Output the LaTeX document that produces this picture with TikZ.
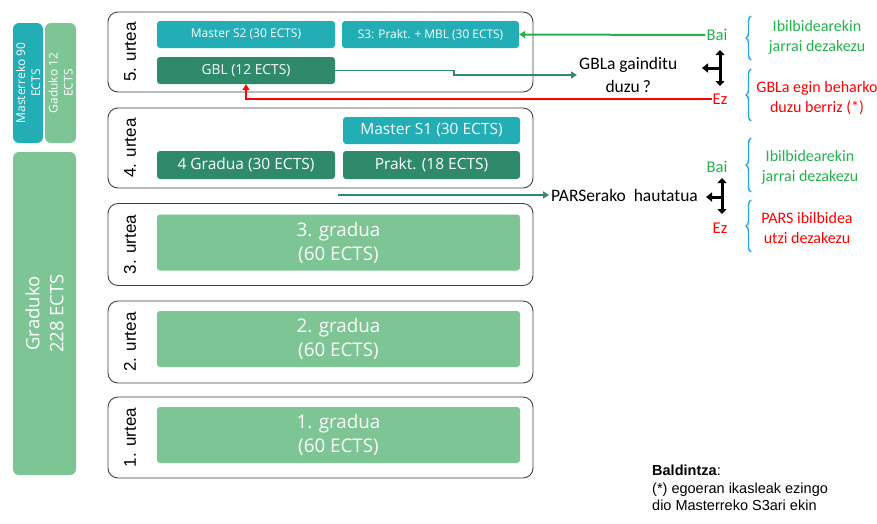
\documentclass[tikz,border=0pt]{standalone}
\usepackage{fontspec}
\setmainfont{Open Sans}
\newfontfamily\calfont{Carlito}
\newfontfamily\arifont{Liberation Sans}
\usetikzlibrary{arrows.meta,decorations.pathreplacing}
\definecolor{mteal}{HTML}{23AEB6}
\definecolor{dgreen}{HTML}{2F8A6C}
\definecolor{lgreen}{HTML}{7DC594}
\definecolor{okgreen}{HTML}{22B24C}
\definecolor{nored}{HTML}{FF0000}
\definecolor{braceblue}{HTML}{22A8E2}
\definecolor{frame}{HTML}{404040}
\tikzset{
  yearbox/.style={draw=frame, line width=0.9pt, rounded corners=10pt, minimum width=425pt, inner sep=0pt},
  ybox/.style={rounded corners=3pt, text=white, inner sep=0pt, align=center},
  sbox/.style={ybox, minimum width=178pt, minimum height=27pt},
  gbox/.style={ybox, fill=lgreen, minimum width=363pt, minimum height=56pt,
               font=\fontsize{18.8}{24}\selectfont},
  bar/.style={rounded corners=6pt, fill=#1, inner sep=0pt},
  bartext/.style={rotate=90, text=white, align=center},
  ylabel/.style={rotate=90, font=\arifont\fontsize{17}{20}\selectfont, text=black},
  qtext/.style={font=\calfont\fontsize{17.5}{23}\selectfont, align=center, inner sep=2pt},
  ans/.style={font=\calfont\fontsize{16.5}{19}\selectfont, inner sep=1pt},
  res/.style={font=\calfont\fontsize{16}{20}\selectfont, align=center, inner sep=0pt},
  bracestyle/.style={draw=braceblue, line width=1.4pt, decorate,
                     decoration={brace, amplitude=5pt}},
  decarrow/.style={line width=3pt, -{Triangle[length=6pt,width=9pt]}},
}
\begin{document}
\begin{tikzpicture}[x=1pt,y=-1pt]
\useasboundingbox (0,0) rectangle (877,523);

% left bars
\node[bar=mteal, minimum width=30pt, minimum height=120pt] (m90) at (28,83) {};
\node[bartext, font=\fontsize{12}{15}\selectfont] at (m90.center) {Masterreko 90\\ECTS};
\node[bar=lgreen, minimum width=31pt, minimum height=120pt] (g12) at (60.5,83) {};
\node[bartext, font=\fontsize{12}{15}\selectfont] at (g12.center) {Gaduko 12\\ECTS};
\node[bar=lgreen, minimum width=63pt, minimum height=323pt] (g228) at (44.5,313.5) {};
\node[bartext, font=\fontsize{18.5}{24}\selectfont] at (g228.center) {Graduko\\228 ECTS};

% year boxes
\node[yearbox, minimum height=80pt] (y5) at (320.5,52) {};
\node[yearbox, minimum height=80pt] (y4) at (320.5,148) {};
\node[yearbox, minimum height=82pt] (y3) at (320.5,244.5) {};
\node[yearbox, minimum height=82pt] (y2) at (320.5,342) {};
\node[yearbox, minimum height=81pt] (y1) at (320.5,437.5) {};

\node[ylabel] (l5) at (130,52) {5. urtea};
\node[ylabel] (l4) at (130,148) {4. urtea};
\node[ylabel] (l3) at (130,244.5) {3. urtea};
\node[ylabel] (l2) at (130,342) {2. urtea};
\node[ylabel] (l1) at (130,437.5) {1. urtea};

% year 5
\node[sbox, fill=mteal, font=\fontsize{12}{14}\selectfont] (ms2) at (246,34.5) {Master S2 (30 ECTS)};
\node[sbox, fill=mteal, minimum width=177pt, font=\fontsize{11.9}{14}\selectfont] (s3) at (430.5,34.5) {S3: Prakt. + MBL (30 ECTS)};
\node[sbox, fill=dgreen, font=\fontsize{13.8}{16}\selectfont] (gbl) at (246,70.5) {GBL (12 ECTS)};
% year 4
\node[sbox, fill=mteal, minimum width=177pt, font=\fontsize{15.5}{18}\selectfont] (ms1) at (431.5,130.5) {Master S1 (30 ECTS)};
\node[sbox, fill=dgreen, minimum height=28pt, font=\fontsize{15.5}{18}\selectfont] (g4) at (246,165) {4 Gradua (30 ECTS)};
\node[sbox, fill=dgreen, minimum width=177pt, minimum height=28pt, font=\fontsize{15.5}{18}\selectfont] (pr) at (431.5,165) {Prakt. (18 ECTS)};
% years 1-3
\node[gbox] (g3) at (338.5,242.5) {3. gradua\\(60 ECTS)};
\node[gbox] (g2) at (338.5,339) {2. gradua\\(60 ECTS)};
\node[gbox] (g1) at (338.5,435) {1. gradua\\(60 ECTS)};

% decision 1
\node[qtext, anchor=west] (q1) at (577,75) {GBLa gainditu\\duzu\,?};
\node[ans, text=okgreen] (bai1) at (717,35) {Bai};
\node[ans, text=nored] (ez1) at (720,99) {Ez};
\coordinate (d1t) at (720,50);
\coordinate (d1b) at (720,86);
\coordinate (d1m) at (721.5,68);
\coordinate (d1l) at (702,68);
\draw[line width=3pt, {Triangle[length=5pt,width=9pt]}-{Triangle[length=5pt,width=9pt]}] (d1t) -- (d1b);
\draw[decarrow] (d1m) -- (d1l);

\draw[bracestyle] (751,60) -- (751,16);
\draw[bracestyle] (751,121) -- (751,69);
\node[res, text=okgreen] (r1) at (817,37) {Ibilbidearekin\\jarrai dezakezu};
\node[res, text=nored] (r2) at (817,98) {GBLa egin beharko\\duzu berriz (*)};

% decision 2
\node[qtext, anchor=west] (q2) at (549,195) {PARSerako\ \ hautatua};
\node[ans, text=okgreen] (bai2) at (717,167) {Bai};
\node[ans, text=nored] (ez2) at (720,228) {Ez};
\coordinate (d2t) at (722,178);
\coordinate (d2b) at (722,214);
\coordinate (d2m) at (723.5,197);
\coordinate (d2l) at (706,197);
\draw[line width=3pt, {Triangle[length=5pt,width=9pt]}-{Triangle[length=5pt,width=9pt]}] (d2t) -- (d2b);
\draw[decarrow] (d2m) -- (d2l);

\draw[bracestyle] (751,192) -- (751,138);
\draw[bracestyle] (751,252) -- (751,200);
\node[res, text=okgreen] (r3) at (810,167) {Ibilbidearekin\\jarrai dezakezu};
\node[res, text=nored] (r4) at (807,228) {PARS ibilbidea\\utzi dezakezu};

% connectors
\draw[okgreen, line width=2pt, -{Triangle[length=6pt,width=7pt]}] (bai1.west) -- (s3.east);
\draw[dgreen, line width=1.6pt, -{Triangle[length=6pt,width=7pt]}] (gbl.east) -- ++(119,0) |- (q1.west);
\draw[nored, line width=2pt, -{Triangle[length=6pt,width=7pt]}] (ez1.west) -| (gbl.south);
\coordinate (p0) at (338,195);
\draw[dgreen, line width=2.2pt, -{Triangle[length=6pt,width=7pt]}] (p0) -- (q2.west);

% note
\node[anchor=north west, align=left, inner sep=0pt, font=\arifont\fontsize{14.5}{17.5}\selectfont] (note) at (652,465)
  {\textbf{Baldintza}:\\(*) egoeran ikasleak ezingo\\dio Masterreko S3ari ekin};
\end{tikzpicture}
\end{document}
